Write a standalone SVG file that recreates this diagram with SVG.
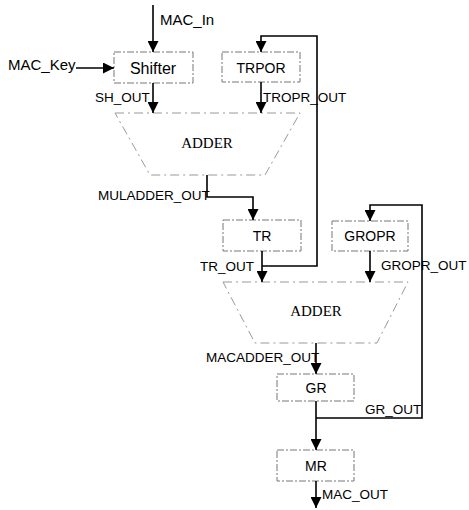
<svg xmlns="http://www.w3.org/2000/svg" width="469" height="510" viewBox="0 0 469 510">
<style>
.box{fill:none;stroke:#777;stroke-width:1;stroke-dasharray:7 2 2 2}
.adder{fill:none;stroke:#999;stroke-width:1;stroke-dasharray:9 4 2 4}
.w{fill:none;stroke:#000;stroke-width:1.6}
.lbl{font-family:"Liberation Sans",Arial,sans-serif;font-size:13.5px;fill:#000}
.bl{font-family:"Liberation Sans",Arial,sans-serif;font-size:14px;fill:#000;text-anchor:middle}
.ad{font-family:"Liberation Serif","Times New Roman",serif;font-size:15px;fill:#000;text-anchor:middle}
</style>
<defs>
<marker id="ah" viewBox="0 0 10 10" refX="10" refY="5" markerWidth="11" markerHeight="11" markerUnits="userSpaceOnUse" orient="auto">
<path d="M0,0 L10,5 L0,10 Z" fill="#000"/>
</marker>
</defs>
<g id="shifter"><rect class="box" x="114" y="52" width="79" height="31"/><text class="bl" x="153" y="74" style="font-size:16px">Shifter</text></g>
<g id="trpor"><rect class="box" x="222" y="52" width="78" height="30"/><text class="bl" x="261" y="73">TRPOR</text></g>
<g id="adder1"><polygon class="adder" points="115,113 300,113 265,175 150,175"/><text class="ad" x="207" y="148">ADDER</text></g>
<g id="tr"><rect class="box" x="223" y="220" width="78" height="31"/><text class="bl" x="262" y="241">TR</text></g>
<g id="gropr"><rect class="box" x="332" y="221" width="76" height="30"/><text class="bl" x="370" y="241">GROPR</text></g>
<g id="adder2"><polygon class="adder" points="223,282 408,282 377,343 255,343"/><text class="ad" x="316" y="316">ADDER</text></g>
<g id="gr"><rect class="box" x="277" y="374" width="77" height="27"/><text class="bl" x="316" y="393">GR</text></g>
<g id="mr"><rect class="box" x="277" y="450" width="77" height="31"/><text class="bl" x="316" y="471">MR</text></g>
<g id="connectors">
<path class="w" d="M153,5 V52" marker-end="url(#ah)"/>
<path class="w" d="M76,68 H114" marker-end="url(#ah)"/>
<path class="w" d="M153,83 V113" marker-end="url(#ah)"/>
<path class="w" d="M261,82 V113" marker-end="url(#ah)"/>
<path class="w" d="M262,266 H317 V36 H261 V52" marker-end="url(#ah)"/>
<path class="w" d="M207,175 V197 H253 V220" marker-end="url(#ah)"/>
<path class="w" d="M262,251 V282" marker-end="url(#ah)"/>
<path class="w" d="M370,251 V282" marker-end="url(#ah)"/>
<path class="w" d="M316,418 H422 V205 H370 V221" marker-end="url(#ah)"/>
<path class="w" d="M316,343 V374" marker-end="url(#ah)"/>
<path class="w" d="M316,401 V450" marker-end="url(#ah)"/>
<path class="w" d="M316,481 V508" marker-end="url(#ah)"/>
</g>
<g id="labels">
<text class="lbl" x="160" y="25" style="font-size:15px">MAC_In</text>
<text class="lbl" x="8" y="70" style="font-size:15px">MAC_Key</text>
<text class="lbl" x="95" y="102">SH_OUT</text>
<text class="lbl" x="263" y="102">TROPR_OUT</text>
<text class="lbl" x="98" y="200">MULADDER_OUT</text>
<text class="lbl" x="200" y="271">TR_OUT</text>
<text class="lbl" x="381" y="270">GROPR_OUT</text>
<text class="lbl" x="206" y="362">MACADDER_OUT</text>
<text class="lbl" x="365" y="414">GR_OUT</text>
<text class="lbl" x="322" y="499">MAC_OUT</text>
</g>
</svg>
